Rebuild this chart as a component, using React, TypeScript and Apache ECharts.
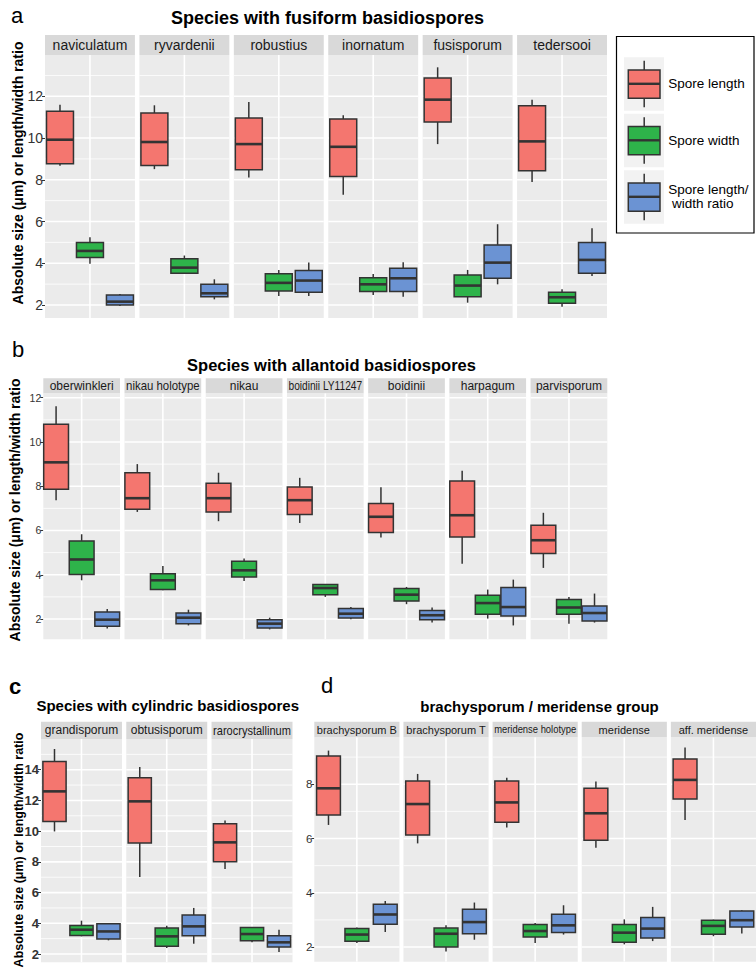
import React, { useEffect, useRef } from 'react';
import * as echarts from 'echarts';

const FONT = "'Liberation Sans', Arial, Helvetica, sans-serif";

const measures = ['Spore length', 'Spore width', 'Spore length/width ratio'];
const boxColors = ['#F4766F', '#2EB34A', '#6B93D3'];

// ---- Panel a: fusiform basidiospores (low, q1, median, q3, high)
const fusiformSpecies = ['naviculatum', 'ryvardenii', 'robustius', 'inornatum', 'fusisporum', 'tedersooi'];
const fusiformLength = [[8.67, 8.77, 9.92, 11.28, 11.6], [8.51, 8.69, 9.81, 11.2, 11.57], [8.11, 8.48, 9.71, 10.96, 11.73], [7.28, 8.16, 9.58, 10.91, 11.09], [9.71, 10.77, 11.84, 12.88, 13.39], [7.89, 8.43, 9.84, 11.55, 11.84]];
const fusiformWidth = [[3.97, 4.27, 4.59, 4.99, 5.25], [3.5, 3.52, 3.79, 4.22, 4.37], [2.43, 2.67, 3.06, 3.5, 3.68], [2.48, 2.64, 2.99, 3.31, 3.49], [2.11, 2.4, 2.93, 3.44, 3.68], [1.92, 2.08, 2.37, 2.61, 2.75]];
const fusiformRatio = [[1.95, 2.0, 2.16, 2.48, 2.53], [2.27, 2.4, 2.56, 2.99, 3.23], [2.43, 2.61, 3.17, 3.65, 4.03], [2.4, 2.64, 3.28, 3.76, 4.05], [2.99, 3.28, 4.03, 4.88, 5.87], [3.39, 3.52, 4.16, 4.99, 5.68]];

// ---- Panel b: allantoid basidiospores
const allantoidSpecies = ['oberwinkleri', 'nikau holotype', 'nikau', 'boidinii LY11247', 'boidinii', 'harpagum', 'parvisporum'];
const allantoidLength = [[7.37, 7.86, 9.08, 10.8, 11.62], [6.84, 6.96, 7.46, 8.61, 9.0], [6.42, 6.84, 7.46, 8.13, 8.61], [6.34, 6.72, 7.37, 7.97, 8.38], [5.68, 5.91, 6.62, 7.22, 7.95], [4.5, 5.71, 6.69, 8.24, 8.7], [4.31, 4.96, 5.56, 6.24, 6.8]];
const allantoidWidth = [[3.75, 4.01, 4.69, 5.53, 5.83], [3.3, 3.33, 3.75, 4.05, 4.4], [3.72, 3.9, 4.2, 4.61, 4.73], [3.0, 3.1, 3.4, 3.56, 3.57], [2.67, 2.81, 3.1, 3.38, 3.45], [2.02, 2.21, 2.72, 3.07, 3.33], [1.79, 2.21, 2.52, 2.88, 3.0]];
const allantoidRatio = [[1.57, 1.67, 1.97, 2.32, 2.45], [1.71, 1.79, 2.06, 2.27, 2.42], [1.53, 1.59, 1.79, 1.97, 2.06], [1.99, 2.05, 2.24, 2.47, 2.54], [1.84, 1.97, 2.17, 2.39, 2.52], [1.71, 2.14, 2.54, 3.42, 3.78], [1.84, 1.91, 2.27, 2.59, 3.15]];

// ---- Panel c: cylindric basidiospores
const cylindricSpecies = ['grandisporum', 'obtusisporum', 'rarocrystallinum'];
const cylindricLength = [[9.98, 10.63, 12.59, 14.54, 15.35], [7.01, 9.23, 11.94, 13.48, 14.17], [7.53, 8.01, 9.27, 10.48, 10.7]];
const cylindricWidth = [[3.15, 3.21, 3.58, 3.86, 4.17], [2.39, 2.5, 3.15, 3.69, 3.84], [2.76, 2.87, 3.3, 3.73, 3.76]];
const cylindricRatio = [[2.89, 2.98, 3.47, 3.97, 4.02], [2.67, 3.19, 3.8, 4.54, 5.0], [2.13, 2.46, 2.76, 3.19, 3.58]];

// ---- Panel d: brachysporum / meridense group
const meridenseSpecies = ['brachysporum B', 'brachysporum T', 'meridense holotype', 'meridense', 'aff. meridense'];
const meridenseLength = [[6.5, 6.87, 7.85, 9.04, 9.24], [5.82, 6.13, 7.27, 8.12, 8.38], [6.41, 6.6, 7.33, 8.12, 8.24], [5.66, 5.94, 6.93, 7.85, 8.1], [6.68, 7.46, 8.16, 8.93, 9.35]];
const meridenseWidth = [[2.15, 2.21, 2.46, 2.68, 2.72], [1.84, 2.0, 2.49, 2.7, 2.8], [2.15, 2.37, 2.59, 2.83, 2.89], [2.1, 2.18, 2.53, 2.83, 3.02], [2.4, 2.47, 2.78, 2.99, 3.01]];
const meridenseRatio = [[2.55, 2.84, 3.2, 3.58, 3.7], [2.27, 2.49, 2.92, 3.39, 3.64], [2.46, 2.54, 2.8, 3.21, 3.54], [2.22, 2.33, 2.68, 3.09, 3.48], [2.5, 2.74, 2.99, 3.33, 3.36]];

// ---- tick labels / grid breaks
const ticksA = [2, 4, 6, 8, 10, 12];
const minorA = [3, 5, 7, 9, 11, 13];
const ticksB = [2, 4, 6, 8, 10, 12];
const minorB = [3, 5, 7, 9, 11];
const ticksC = [2, 4, 6, 8, 10, 12, 14];
const minorC = [3, 5, 7, 9, 11, 13, 15];
const ticksD = [2, 4, 6, 8];
const minorD = [3, 5, 7, 9];

const panelTitles = ['Species with fusiform basidiospores', 'Species with allantoid basidiospores', 'Species with cylindric basidiospores', 'brachysporum / meridense group'];
const yTitle = 'Absolute size (μm) or length/width ratio';

type Panel = {
  species: string[]; length: number[][]; width: number[][]; ratio: number[][];
  ticks: number[]; minor: number[];
  left: number; right: number; gap: number; stripTop: number; plotTop: number; plotBottom: number;
  yMin: number; yMax: number; boxFrac: number; stripFont: number; tickFont: number; tickWeight: string;
};

const panels: Panel[] = [
  { species: fusiformSpecies, length: fusiformLength, width: fusiformWidth, ratio: fusiformRatio, ticks: ticksA, minor: minorA,
    left: 45, right: 607, gap: 4.5, stripTop: 35, plotTop: 55, plotBottom: 318, yMin: 1.376, yMax: 13.98, boxFrac: 0.9, stripFont: 14, tickFont: 14, tickWeight: 'normal' },
  { species: allantoidSpecies, length: allantoidLength, width: allantoidWidth, ratio: allantoidRatio, ticks: ticksB, minor: minorB,
    left: 43.3, right: 607.3, gap: 4.5, stripTop: 378.3, plotTop: 393.3, plotBottom: 639.3, yMin: 1.083, yMax: 12.2, boxFrac: 0.97, stripFont: 12, tickFont: 10.5, tickWeight: 'normal' },
  { species: cylindricSpecies, length: cylindricLength, width: cylindricWidth, ratio: cylindricRatio, ticks: ticksC, minor: minorC,
    left: 41, right: 292.5, gap: 4.3, stripTop: 721.7, plotTop: 739, plotBottom: 962.3, yMin: 1.46, yMax: 16.0, boxFrac: 0.86, stripFont: 12, tickFont: 13, tickWeight: 'bold' },
  { species: meridenseSpecies, length: meridenseLength, width: meridenseWidth, ratio: meridenseRatio, ticks: ticksD, minor: minorD,
    left: 314.3, right: 756, gap: 4, stripTop: 721.7, plotTop: 737.3, plotBottom: 961.7, yMin: 1.46, yMax: 9.73, boxFrac: 0.84, stripFont: 11, tickFont: 11.5, tickWeight: 'normal' },
];

const titleLayout = [
  { x: 327.5, y: 18, size: 18 },
  { x: 331.5, y: 365, size: 16.5 },
  { x: 167.7, y: 705.7, size: 15 },
  { x: 539.5, y: 706, size: 15 },
];
const panelLetters = [
  { t: 'a', x: 11, y: 15, w: 'normal' },
  { t: 'b', x: 12, y: 349, w: 'normal' },
  { t: 'c', x: 9, y: 686, w: 'bold' },
  { t: 'd', x: 321, y: 685, w: 'normal' },
];
const yTitleLayout = [
  { x: 17.5, y: 173, size: 14 },
  { x: 14.5, y: 510, size: 14 },
  { x: 18.5, y: 850, size: 12.5 },
];

let measureCtx: CanvasRenderingContext2D | null = null;
function textWidth(text: string, size: number): number {
  if (!measureCtx) measureCtx = document.createElement('canvas').getContext('2d');
  if (!measureCtx) return text.length * size * 0.5;
  measureCtx.font = `${size}px ${FONT}`;
  return measureCtx.measureText(text).width;
}

function buildOption() {
  const grids: any[] = [];
  const xAxes: any[] = [];
  const yAxes: any[] = [];
  const series: any[] = [];
  const graphics: any[] = [];

  panels.forEach((p) => {
    const n = p.species.length;
    const w = (p.right - p.left - p.gap * (n - 1)) / n;
    p.species.forEach((sp, i) => {
      const gi = grids.length;
      const x = p.left + i * (w + p.gap);
      grids.push({ left: x, top: p.plotTop, width: w, height: p.plotBottom - p.plotTop, show: true, backgroundColor: '#EBEBEB', borderWidth: 0 });
      xAxes.push({ gridIndex: gi, type: 'category', data: measures, show: false });
      const first = i === 0;
      yAxes.push({
        gridIndex: gi, type: 'value', min: p.yMin, max: p.yMax,
        axisLine: { show: false },
        axisTick: { show: first, length: 3, lineStyle: { color: '#333', width: 1 }, customValues: p.ticks },
        axisLabel: { show: first, customValues: p.ticks, fontSize: p.tickFont, fontWeight: p.tickWeight, color: '#333', margin: 2, fontFamily: FONT },
        splitLine: { show: false },
      });
      // strip
      graphics.push({ type: 'rect', shape: { x, y: p.stripTop, width: w, height: p.plotTop - p.stripTop }, style: { fill: '#D9D9D9' }, silent: true });
      const tw = textWidth(sp, p.stripFont);
      const sx = Math.min(1, (w - 3) / tw);
      graphics.push({
        type: 'text', x: x + w / 2, y: (p.stripTop + p.plotTop) / 2, scaleX: sx,
        style: { text: sp, fontSize: p.stripFont, fontFamily: FONT, fill: '#1A1A1A', align: 'center', verticalAlign: 'middle' },
        silent: true,
      });
      // grid lines
      const gridData: number[][] = [];
      p.ticks.forEach((v) => gridData.push([1, v, 1]));
      p.minor.forEach((v) => gridData.push([1, v, 0]));
      gridData.push([1, p.yMin, 2]);
      series.push({
        type: 'custom', xAxisIndex: gi, yAxisIndex: gi, z: 1, silent: true, clip: true,
        encode: { x: 0, y: 1 },
        data: gridData,
        renderItem: (params: any, api: any) => {
          const cs = params.coordSys;
          const kind = api.value(2);
          if (kind === 2) {
            const cx = api.coord([1, p.yMin])[0];
            return { type: 'line', shape: { x1: cx, y1: cs.y, x2: cx, y2: cs.y + cs.height }, style: { stroke: '#FFFFFF', lineWidth: 1.6 } };
          }
          const yy = api.coord([1, api.value(1)])[1];
          return { type: 'line', shape: { x1: cs.x, y1: yy, x2: cs.x + cs.width, y2: yy }, style: { stroke: '#FFFFFF', lineWidth: kind === 1 ? 1.6 : 0.8 } };
        },
      });
      // boxes
      const boxData = [p.length[i], p.width[i], p.ratio[i]].map((s, k) => [k, ...s]);
      series.push({
        type: 'custom', xAxisIndex: gi, yAxisIndex: gi, z: 2, silent: true,
        encode: { x: 0, y: [1, 2, 3, 4, 5] },
        data: boxData,
        renderItem: (params: any, api: any) => {
          const idx = api.value(0) as number;
          const cx = api.coord([idx, p.yMin])[0];
          const bw = (api.size([1, 0]) as number[])[0] * p.boxFrac;
          const yv = (k: number) => api.coord([idx, api.value(k)])[1];
          const lo = yv(1), q1 = yv(2), md = yv(3), q3 = yv(4), hi = yv(5);
          const stroke = '#333333';
          return {
            type: 'group',
            children: [
              { type: 'line', shape: { x1: cx, y1: hi, x2: cx, y2: q3 }, style: { stroke, lineWidth: 1.5 } },
              { type: 'line', shape: { x1: cx, y1: q1, x2: cx, y2: lo }, style: { stroke, lineWidth: 1.5 } },
              { type: 'rect', shape: { x: cx - bw / 2, y: q3, width: bw, height: q1 - q3 }, style: { fill: boxColors[idx], stroke, lineWidth: 1.5 } },
              { type: 'line', shape: { x1: cx - bw / 2, y1: md, x2: cx + bw / 2, y2: md }, style: { stroke, lineWidth: 2.6 } },
            ],
          };
        },
      });
    });
  });

  // titles
  panelTitles.forEach((t, i) => {
    const L = titleLayout[i];
    graphics.push({ type: 'text', x: L.x, y: L.y, style: { text: t, fontSize: L.size, fontWeight: 'bold', fontFamily: FONT, fill: '#000', align: 'center', verticalAlign: 'middle' }, silent: true });
  });
  panelLetters.forEach((l) => {
    graphics.push({ type: 'text', x: l.x, y: l.y, style: { text: l.t, fontSize: 22, fontWeight: l.w, fontFamily: FONT, fill: '#000', align: 'left', verticalAlign: 'middle' }, silent: true });
  });
  yTitleLayout.forEach((L) => {
    graphics.push({ type: 'text', x: L.x, y: L.y, rotation: Math.PI / 2, style: { text: yTitle, fontSize: L.size, fontWeight: 'bold', fontFamily: FONT, fill: '#000', align: 'center', verticalAlign: 'middle' }, silent: true });
  });

  // legend
  graphics.push({ type: 'rect', shape: { x: 616.5, y: 36.5, width: 137.5, height: 196.5 }, style: { fill: '#FFFFFF', stroke: '#000', lineWidth: 1.2 }, silent: true });
  const legendLabels = ['Spore length', 'Spore width', 'Spore length/\n width ratio'];
  legendLabels.forEach((lab, k) => {
    const top = 57.3 + k * 56.5;
    graphics.push({ type: 'rect', shape: { x: 624, y: top, width: 40, height: 53.5 }, style: { fill: '#F2F2F2' }, silent: true });
    const cx = 644.2;
    graphics.push({ type: 'line', shape: { x1: cx, y1: top + 3.5, x2: cx, y2: top + 50 }, style: { stroke: '#333', lineWidth: 1.5 }, silent: true });
    graphics.push({ type: 'rect', shape: { x: 628.3, y: top + 12.7, width: 31.7, height: 28.3 }, style: { fill: boxColors[k], stroke: '#333', lineWidth: 1.5 }, silent: true });
    graphics.push({ type: 'line', shape: { x1: 628.3, y1: top + 26.5, x2: 660, y2: top + 26.5 }, style: { stroke: '#333', lineWidth: 2.4 }, silent: true });
    graphics.push({ type: 'text', x: 668.3, y: top + 26.5, style: { text: lab, fontSize: 13.5, fontFamily: FONT, fill: '#000', align: 'left', verticalAlign: 'middle', lineHeight: 14 }, silent: true });
  });

  return {
    animation: false,
    backgroundColor: '#FFFFFF',
    grid: grids,
    xAxis: xAxes,
    yAxis: yAxes,
    series,
    graphic: graphics,
  };
}

export default function App() {
  const ref = useRef<HTMLDivElement>(null);
  useEffect(() => {
    if (!ref.current) return;
    const chart = echarts.init(ref.current, null, { renderer: 'svg' });
    chart.setOption(buildOption() as any);
    return () => chart.dispose();
  }, []);
  return <div ref={ref} style={{ position: 'absolute', left: 0, top: 0, width: 756, height: 968 }} />;
}
